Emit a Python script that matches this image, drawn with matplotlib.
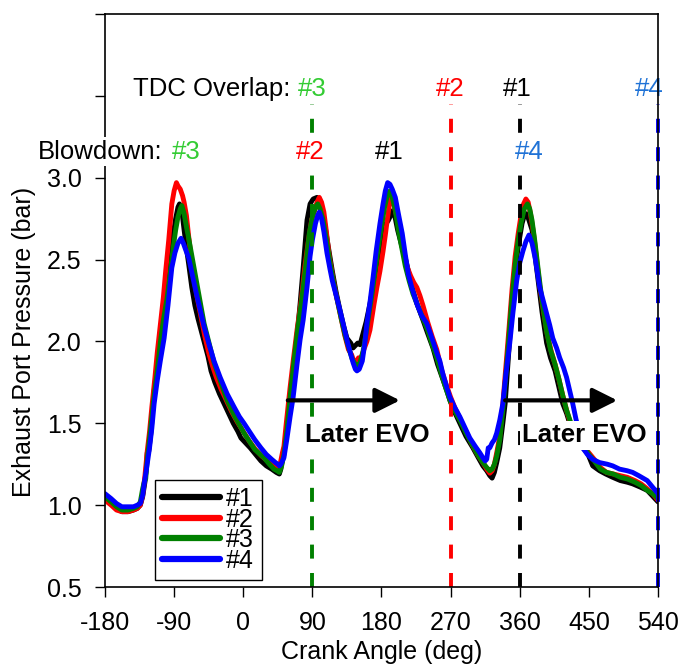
import matplotlib
matplotlib.use("Agg")
import matplotlib.pyplot as plt
import numpy as np

plt.rcParams['font.family'] = ['Liberation Sans', 'DejaVu Sans']

# Exhaust port pressure traces (crank angle in deg, pressure in bar)
ang1 = [-180,-172,-165,-158,-150,-143,-138,-134,-131,-128,-126,-125,-123,-120,-116,-112,-108,-104,-100,-96,
        -92,-88,-85,-83,-81,-79,-77,-74,-71,-67,-63,-59,-55,-50,-46,-42,-37,-31,-25,-19,
        -13,-7,-3,3,9,16,23,30,37,43,47,49,51,52,54,57,61,65,69,74,
        78,83,87,91,96,100,103,106,110,116,121,126,131,135,140,143,146,149,152,156,
        160,165,170,174,178,182,186,189,192,195,198,201,206,211,216,221,227,234,240,247,
        253,259,265,269,275,282,290,299,306,312,317,321,324,327,330,334,338,341,344,347,
        351,354,358,363,366,369,372,376,380,384,389,395,400,406,411,416,421,425,430,436,
        442,448,455,464,472,481,491,500,507,517,526,532,540]
p1 = [1.04,1.01,0.98,0.96,0.96,0.97,0.98,1.00,1.05,1.14,1.24,1.32,1.33,1.45,1.70,1.85,1.99,2.14,2.30,2.47,
      2.63,2.75,2.82,2.84,2.82,2.76,2.68,2.57,2.47,2.33,2.22,2.14,2.07,1.98,1.91,1.82,1.75,1.68,1.62,1.56,
      1.50,1.45,1.41,1.38,1.35,1.31,1.27,1.24,1.22,1.20,1.19,1.22,1.28,1.32,1.36,1.48,1.62,1.80,1.98,2.23,
      2.45,2.74,2.84,2.87,2.88,2.84,2.78,2.72,2.60,2.43,2.30,2.19,2.09,2.02,1.99,1.96,1.975,1.99,1.98,2.05,
      2.12,2.23,2.36,2.48,2.58,2.68,2.72,2.74,2.77,2.80,2.75,2.68,2.59,2.51,2.41,2.31,2.22,2.13,2.05,1.96,
      1.86,1.78,1.70,1.64,1.57,1.50,1.42,1.35,1.29,1.24,1.21,1.18,1.165,1.20,1.26,1.35,1.50,1.62,1.82,2.02,
      2.25,2.43,2.58,2.72,2.77,2.78,2.74,2.68,2.52,2.37,2.18,1.99,1.90,1.82,1.72,1.62,1.56,1.50,1.44,1.39,
      1.35,1.32,1.24,1.21,1.19,1.17,1.15,1.14,1.13,1.11,1.09,1.06,1.02]

ang2 = [-180,-172,-165,-158,-150,-143,-138,-134,-131,-128,-125,-122,-119,-115,-112,-108,-104,-101,-97,-93,
        -90,-87,-85,-82,-79,-77,-74,-71,-68,-64,-60,-55,-50,-45,-40,-35,-29,-22,-15,-8,
        0,8,16,24,32,40,45,48,51,53,56,61,65,70,76,80,85,89,93,96,
        99,102,105,108,112,117,122,127,132,137,141,144,147,150,153,157,161,165,170,174,
        178,182,185,188,191,193,196,200,204,208,213,218,222,226,230,234,240,246,252,258,
        264,270,276,283,290,298,305,312,317,321,324,327,330,334,338,342,346,350,354,358,
        362,365,368,371,374,378,382,386,391,396,401,406,411,416,421,426,431,437,443,450,
        457,465,473,482,491,500,510,518,526,533,540]
p2 = [1.03,1.00,0.97,0.96,0.96,0.97,0.98,1.00,1.06,1.18,1.33,1.45,1.60,1.78,1.93,2.10,2.27,2.43,2.62,2.84,
      2.92,2.97,2.95,2.93,2.89,2.85,2.77,2.64,2.52,2.38,2.27,2.15,2.03,1.93,1.85,1.78,1.71,1.64,1.57,1.51,
      1.45,1.39,1.34,1.30,1.27,1.24,1.22,1.25,1.32,1.36,1.50,1.72,1.88,2.07,2.27,2.45,2.62,2.74,2.80,2.85,
      2.88,2.85,2.79,2.68,2.52,2.38,2.26,2.15,2.04,1.95,1.92,1.88,1.87,1.90,1.89,1.95,2.00,2.07,2.22,2.33,
      2.43,2.55,2.65,2.76,2.86,2.88,2.84,2.76,2.66,2.57,2.46,2.40,2.36,2.33,2.28,2.22,2.12,2.03,1.95,1.83,
      1.74,1.66,1.59,1.52,1.45,1.37,1.31,1.26,1.22,1.195,1.21,1.25,1.32,1.42,1.62,1.85,2.08,2.32,2.52,2.66,
      2.78,2.84,2.87,2.85,2.78,2.66,2.50,2.34,2.18,2.04,1.94,1.86,1.77,1.67,1.58,1.50,1.44,1.40,1.36,1.32,
      1.28,1.23,1.20,1.19,1.18,1.17,1.15,1.13,1.10,1.07,1.03]

ang3 = [-180,-172,-165,-158,-150,-143,-138,-134,-131,-129,-127,-125,-121,-117,-112,-108,-104,-99,-95,-91,
        -88,-85,-82,-80,-77,-74,-71,-66,-61,-56,-51,-45,-38,-30,-21,-12,-5,1,8,15,
        22,27,34,40,44,47,50,53,57,61,66,71,76,81,86,90,94,97,100,104,
        108,113,118,123,128,133,138,142,146,149,152,156,160,164,168,172,176,180,184,188,
        191,194,198,202,206,211,216,221,227,233,240,246,252,258,264,270,276,283,290,298,
        305,312,317,321,324,327,330,334,338,342,346,350,354,358,362,366,370,373,376,380,
        384,389,395,400,406,411,416,421,426,431,437,443,450,457,465,473,482,491,500,510,
        518,526,533,540]
p3 = [1.05,1.02,0.99,0.97,0.97,0.98,0.99,1.02,1.10,1.14,1.16,1.28,1.45,1.63,1.82,1.99,2.13,2.27,2.42,2.58,
      2.68,2.76,2.81,2.83,2.78,2.70,2.63,2.50,2.37,2.24,2.11,2.00,1.87,1.76,1.64,1.55,1.49,1.44,1.39,1.34,
      1.31,1.29,1.25,1.22,1.21,1.20,1.24,1.31,1.46,1.66,1.88,2.08,2.25,2.45,2.66,2.76,2.82,2.84,2.81,2.74,
      2.63,2.48,2.35,2.24,2.13,2.03,1.95,1.89,1.86,1.85,1.87,1.94,2.05,2.18,2.30,2.44,2.58,2.70,2.82,2.90,
      2.92,2.88,2.80,2.68,2.58,2.46,2.37,2.29,2.22,2.15,2.07,1.98,1.90,1.80,1.71,1.63,1.57,1.51,1.44,1.37,
      1.31,1.26,1.23,1.21,1.22,1.25,1.30,1.40,1.58,1.80,2.03,2.27,2.47,2.62,2.73,2.81,2.84,2.81,2.74,2.60,
      2.44,2.25,2.06,1.95,1.86,1.77,1.67,1.58,1.51,1.45,1.40,1.36,1.31,1.27,1.22,1.20,1.19,1.17,1.16,1.14,
      1.12,1.09,1.07,1.04]

ang4 = [-180,-172,-165,-158,-150,-143,-138,-134,-131,-129,-126,-122,-119,-116,-112,-108,-103,-98,-93,-89,
        -85,-81,-78,-75,-71,-66,-61,-56,-51,-45,-38,-30,-21,-12,-5,1,8,15,23,30,
        37,42,45,47,49,51,53,57,61,65,70,74,78,83,87,90,94,97,99,102,
        105,109,113,116,121,126,131,136,140,143,146,148,151,155,158,161,165,169,173,178,
        182,185,188,191,194,198,202,207,211,215,220,226,232,239,245,252,256,260,265,269,
        275,282,288,295,302,308,312,315,317,319,321,324,327,330,334,338,342,347,351,356,
        360,364,368,372,376,380,386,391,395,399,403,408,412,417,421,425,429,433,437,442,
        448,455,464,474,481,490,500,507,515,526,533,540]
p4 = [1.07,1.04,1.01,0.99,0.99,0.99,1.00,1.01,1.06,1.13,1.22,1.35,1.47,1.62,1.76,1.88,2.02,2.22,2.45,2.54,
      2.60,2.63,2.60,2.56,2.51,2.40,2.29,2.19,2.09,1.99,1.88,1.78,1.68,1.60,1.54,1.50,1.45,1.40,1.35,1.31,
      1.28,1.26,1.25,1.24,1.25,1.27,1.29,1.41,1.54,1.66,1.86,2.01,2.13,2.33,2.52,2.62,2.72,2.77,2.79,2.75,
      2.67,2.54,2.44,2.37,2.28,2.19,2.09,1.99,1.92,1.87,1.83,1.82,1.83,1.88,1.98,2.11,2.24,2.39,2.55,2.72,
      2.84,2.92,2.97,2.96,2.93,2.88,2.78,2.66,2.53,2.41,2.32,2.23,2.16,2.11,2.03,1.93,1.88,1.80,1.72,1.66,
      1.60,1.54,1.48,1.41,1.36,1.32,1.29,1.27,1.28,1.35,1.35,1.38,1.40,1.44,1.52,1.62,1.80,1.99,2.17,2.37,
      2.48,2.55,2.61,2.65,2.60,2.51,2.33,2.24,2.17,2.10,2.02,1.96,1.90,1.84,1.78,1.70,1.62,1.53,1.45,1.35,
      1.31,1.28,1.26,1.25,1.24,1.22,1.21,1.20,1.18,1.15,1.11,1.07]

series = [(ang1, p1, '#000000', '#1'),
          (ang2, p2, '#ff0000', '#2'),
          (ang3, p3, '#008000', '#3'),
          (ang4, p4, '#0000ff', '#4')]

# TDC overlap crank angle for each cylinder
tdc_angles = [90, 270, 360, 540]
tdc_colors = ['#008000', '#ff0000', '#000000', '#0000ff']

x_ticks = [-180, -90, 0, 90, 180, 270, 360, 450, 540]
y_ticks = [0.5, 1.0, 1.5, 2.0, 2.5, 3.0, 3.5, 4.0]
y_tick_labels = ['0.5', '1.0', '1.5', '2.0', '2.5', '3.0', '', '']

FS = 18
AFS = 18.5

fig = plt.figure(figsize=(6.83, 6.67), dpi=100)
ax = fig.add_axes([0.15373, 0.11994, 0.80966, 0.85907])

for ang, p, c, lab in series:
    ax.plot(ang, p, color=c, lw=3.5, label=lab, zorder=2,
            solid_joinstyle='round', solid_capstyle='round')

for a, c in zip(tdc_angles, tdc_colors):
    ax.plot([a, a], [0.5, 3.45], color=c, lw=2.8, ls=(0, (3.6, 3.7)), zorder=3,
            clip_on=False)

ax.set_xlim(-180, 540)
ax.set_ylim(0.5, 4.0)
ax.set_xticks(x_ticks)
ax.set_xticklabels([str(t) for t in x_ticks])
ax.set_yticks(y_ticks)
ax.set_yticklabels(y_tick_labels)
ax.tick_params(direction='out', length=7, width=1, labelsize=FS, pad=10)
for s in ax.spines.values():
    s.set_linewidth(1.2)
    s.set_zorder(4)

ax.set_xlabel('Crank Angle (deg)', fontsize=FS)
ax.xaxis.set_label_coords(0.5, -0.092)
ax.set_ylabel('Exhaust Port Pressure (bar)', fontsize=FS)
ax.yaxis.set_label_coords(-0.125, 0.427)

# Row 1: TDC overlap labels
ax.text(62, 3.5, 'TDC Overlap:', fontsize=AFS, ha='right', va='baseline', color='black')
ax.text(90, 3.5, '#3', fontsize=AFS, ha='center', va='baseline', color='#33cc33')
ax.text(270, 3.5, '#2', fontsize=AFS, ha='center', va='baseline', color='#ff0000')
ax.text(357, 3.5, '#1', fontsize=AFS, ha='center', va='baseline', color='black')
ax.text(529, 3.5, '#4', fontsize=AFS, ha='center', va='baseline', color='#1f72d6')

# Row 2: blowdown labels
wb = dict(facecolor='white', edgecolor='none', boxstyle='square,pad=0.1')
ax.text(-104.5, 3.116, 'Blowdown:', fontsize=AFS, ha='right', va='baseline', color='black',
        bbox=wb, zorder=6)
ax.text(-74.5, 3.116, '#3', fontsize=AFS, ha='center', va='baseline', color='#33cc33', bbox=wb, zorder=6)
ax.text(87, 3.116, '#2', fontsize=AFS, ha='center', va='baseline', color='#ff0000', bbox=wb, zorder=6)
ax.text(190, 3.116, '#1', fontsize=AFS, ha='center', va='baseline', color='black', bbox=wb, zorder=6)
ax.text(372, 3.116, '#4', fontsize=AFS, ha='center', va='baseline', color='#1f72d6', bbox=wb, zorder=6)

# EVO shift arrows
arrow_y = 1.64
for x0, x1, xt in [(58, 204, 161.7), (341, 487, 444.3)]:
    ax.annotate('', xy=(x1, arrow_y), xytext=(x0, arrow_y),
                arrowprops=dict(arrowstyle='-|>,head_length=0.6,head_width=0.3',
                                color='black', lw=3, mutation_scale=25,
                                shrinkA=0, shrinkB=0), zorder=5)
    ax.text(xt, 1.384, 'Later EVO', fontsize=AFS, fontweight='bold', ha='center',
            va='baseline', color='black', zorder=6,
            bbox=dict(facecolor='white', edgecolor='none', boxstyle='square,pad=0.1'))

leg = ax.legend(loc='lower left', bbox_to_anchor=(0.0904, 0.012), borderaxespad=0,
                fontsize=FS, frameon=True, fancybox=False, framealpha=1,
                edgecolor='black', handlelength=2.3, handletextpad=0.25,
                labelspacing=-0.14, borderpad=0.3)
leg.get_frame().set_linewidth(1.0)
leg.set_zorder(7)
for h in leg.get_lines():
    h.set_linewidth(4.5)

fig.savefig('out.png', dpi=100)
